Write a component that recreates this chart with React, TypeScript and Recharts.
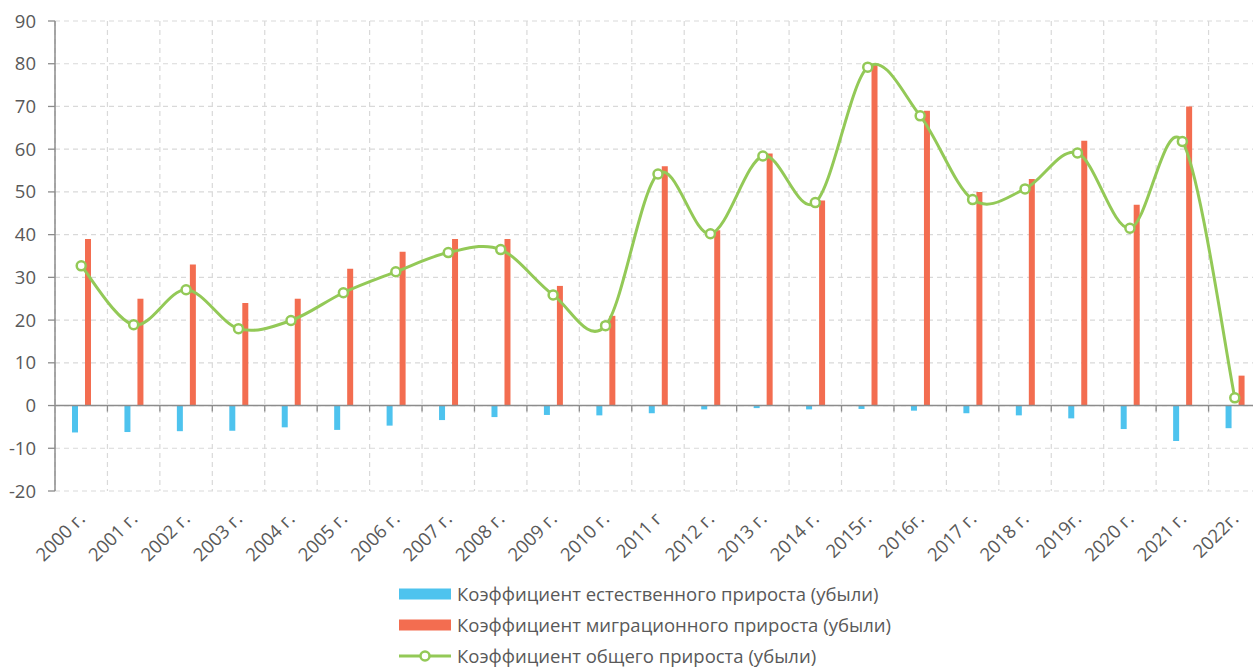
import React from 'react';
import { ComposedChart, Bar, Line, XAxis, YAxis, CartesianGrid, ReferenceLine, Legend } from 'recharts';

const years = ['2000 г.', '2001 г.', '2002 г.', '2003 г.', '2004 г.', '2005 г.', '2006 г.', '2007 г.', '2008 г.', '2009 г.', '2010 г.', '2011 г', '2012 г.', '2013 г.', '2014 г.', '2015г.', '2016г.', '2017 г.', '2018 г.', '2019г.', '2020 г.', '2021 г.', '2022г.'];
const natural = [-6.3, -6.2, -6.0, -5.9, -5.1, -5.7, -4.7, -3.4, -2.7, -2.2, -2.3, -1.8, -0.9, -0.6, -0.9, -0.8, -1.2, -1.8, -2.3, -3.0, -5.5, -8.3, -5.3];
const migration = [39, 25, 33, 24, 25, 32, 36, 39, 39, 28, 21, 56, 41, 59, 48, 80, 69, 50, 53, 62, 47, 70, 7];
const total = [32.7, 18.9, 27.1, 18.0, 19.9, 26.4, 31.3, 35.8, 36.5, 25.9, 18.7, 54.2, 40.2, 58.4, 47.5, 79.2, 67.8, 48.2, 50.7, 59.1, 41.5, 61.8, 1.8];
const yTicks = [-20, -10, 0, 10, 20, 30, 40, 50, 60, 70, 80, 90];
const seriesNames = ['Коэффициент естественного прироста (убыли)', 'Коэффициент миграционного прироста (убыли)', 'Коэффициент общего прироста (убыли)'];

const BLUE = '#4EC3EE';
const RED = '#F36D50';
const GREEN = '#93C957';
const TEXT = '#595959';
const AXIS = '#8C8C8C';
const GRID = '#D9D9D9';
const FONT = '"Open Sans", sans-serif';

const data = years.map((year, i) => ({ year, natural: natural[i], migration: migration[i], total: total[i], idx: i }));
const boundaryTicks = Array.from({ length: years.length + 1 }, (_, i) => i);

// Excel-like smooth curve (Catmull-Rom through points)
function smoothCurve(context: any) {
  let pts: number[][] = [];
  return {
    areaStart() {},
    areaEnd() {},
    lineStart() { pts = []; },
    point(x: number, y: number) { pts.push([+x, +y]); },
    lineEnd() {
      const n = pts.length;
      if (!n) return;
      context.moveTo(pts[0][0], pts[0][1]);
      const t = 1 / 6;
      for (let i = 0; i < n - 1; i++) {
        const p0 = pts[Math.max(0, i - 1)];
        const p1 = pts[i];
        const p2 = pts[i + 1];
        const p3 = pts[Math.min(n - 1, i + 2)];
        context.bezierCurveTo(
          p1[0] + (p2[0] - p0[0]) * t, p1[1] + (p2[1] - p0[1]) * t,
          p2[0] - (p3[0] - p1[0]) * t, p2[1] - (p3[1] - p1[1]) * t,
          p2[0], p2[1]
        );
      }
    },
  };
}

const XTick = (props: any) => {
  const { x, y, payload } = props;
  return (
    <g transform={`translate(${x + 5},${y + 29})`}>
      <text x={0} y={0} textAnchor="end" transform="rotate(-45)" fill={TEXT} fontSize={18.5} fontFamily={FONT}>
        {payload.value}
      </text>
    </g>
  );
};

const ZeroLine = (props: any) => {
  const { x1, x2, y1 } = props;
  const band = (x2 - x1) / years.length;
  const ticks = [];
  for (let i = 1; i < years.length; i++) {
    const tx = x1 + band * i;
    ticks.push(<line key={i} x1={tx} x2={tx} y1={y1} y2={y1 + 6} stroke={AXIS} strokeWidth={1.3} />);
  }
  return (
    <g>
      <line x1={x1} x2={x2} y1={y1} y2={y1} stroke={AXIS} strokeWidth={1.5} />
      {ticks}
    </g>
  );
};

const LegendContent = (props: any) => {
  const payload = props.payload || [];
  return (
    <div style={{ height: 90, paddingTop: 0, boxSizing: 'border-box', fontFamily: FONT, fontSize: 18.5, lineHeight: '22px', color: TEXT }}>
      {payload.map((item: any, i: number) => (
        <div key={i} style={{ height: 31, display: 'flex', alignItems: 'center', whiteSpace: 'nowrap' }}>
          <svg width={54} height={14} style={{ marginRight: 5 }}>
            {item.type === 'line' ? (
              <g>
                <line x1={1} x2={53} y1={7} y2={7} stroke={item.color} strokeWidth={3} />
                <circle cx={27} cy={7} r={4.5} fill="#fff" stroke={item.color} strokeWidth={2.5} />
              </g>
            ) : (
              <rect x={1} y={1.5} width={52} height={11} fill={item.color} />
            )}
          </svg>
          <span>{item.value}</span>
        </div>
      ))}
    </div>
  );
};

export default function App() {
  return (
    <div style={{ position: 'absolute', left: 0, top: 0, width: 1253, height: 668, overflow: 'hidden', background: '#fff' }}>
      <ComposedChart
        width={1280}
        height={668}
        data={data}
        margin={{ top: 21, right: 19, left: 0, bottom: 0 }}
        barSize={6}
        barGap={7}
      >
        <XAxis xAxisId="grid" type="number" dataKey="idx" domain={[0, years.length]} ticks={boundaryTicks} hide allowDataOverflow />
        <CartesianGrid xAxisId="grid" stroke={GRID} strokeDasharray="5 4" strokeWidth={1.2} />
        <XAxis
          dataKey="year"
          interval={0}
          axisLine={false}
          tickLine={false}
          tickSize={0}
          tickMargin={0}
          height={87}
          tick={<XTick />}
        />
        <YAxis
          domain={[-20, 90]}
          ticks={yTicks}
          interval={0}
          width={55}
          axisLine={{ stroke: AXIS, strokeWidth: 1.5 }}
          tickLine={{ stroke: AXIS, strokeWidth: 1.3 }}
          tickSize={7}
          tickMargin={12}
          tick={{ fill: TEXT, fontSize: 18.5, fontFamily: FONT }}
          allowDataOverflow
        />
        <Bar dataKey="natural" name={seriesNames[0]} fill={BLUE} isAnimationActive={false} />
        <Bar dataKey="migration" name={seriesNames[1]} fill={RED} isAnimationActive={false} />
        <ReferenceLine y={0} shape={<ZeroLine />} />
        <Line
          dataKey="total"
          name={seriesNames[2]}
          type={smoothCurve as any}
          stroke={GREEN}
          strokeWidth={3}
          dot={{ r: 4.5, fill: '#fff', stroke: GREEN, strokeWidth: 2.5 }}
          activeDot={false}
          isAnimationActive={false}
        />
        <Legend verticalAlign="bottom" align="left" layout="horizontal" content={<LegendContent />} wrapperStyle={{ left: 398, width: 560 }} />
      </ComposedChart>
    </div>
  );
}
